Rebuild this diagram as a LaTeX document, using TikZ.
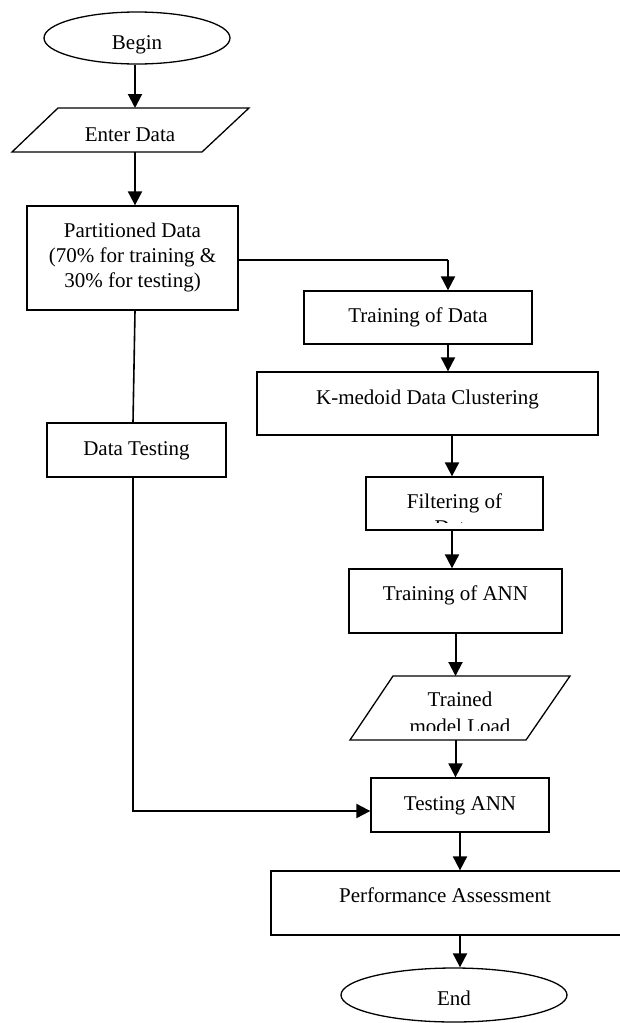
\documentclass[tikz,border=0pt]{standalone}
\usepackage{fontspec}
\setmainfont{Liberation Serif}
\usetikzlibrary{arrows.meta,shapes.geometric}
\begin{document}
\begin{tikzpicture}[x=1pt,y=-1pt,
  box/.style={draw,line width=1.3pt,rectangle,inner sep=0pt},
  oval/.style={draw,line width=1.3pt,ellipse,inner sep=0pt},
  para/.style={draw,line width=1.3pt},
  txt/.style={inner sep=0pt,anchor=base,font=\fontsize{21}{25}\selectfont},
  arr/.style={line width=2pt,-{Triangle[length=14pt,width=14pt]}},
  link/.style={line width=1.6pt}]
\useasboundingbox (0,0) rectangle (619,1023);

% terminals
\node[oval,minimum width=186pt,minimum height=52pt] (begin) at (137,38) {};
\node[txt] (tbegin) at (137,49) {Begin};
\node[oval,minimum width=226pt,minimum height=54pt] (end) at (454,995) {};
\node[txt] (tend) at (454,1005) {End};

% Enter Data parallelogram
\draw[para] (58,108) -- (249,108) -- (202,152) -- (12,152) -- cycle;
\coordinate (enterN) at (135,108);
\coordinate (enterS) at (135,152);
\node[txt] (tenter) at (130,141) {Enter Data};

% Partitioned Data
\node[box,minimum width=211pt,minimum height=104pt] (part) at (132.5,258) {};
\node[txt] (tpart1) at (132.5,237) {Partitioned Data};
\node[txt] (tpart2) at (132.5,262) {(70\% for training \&};
\node[txt] (tpart3) at (132.5,287) {30\% for testing)};

% right column
\node[box,minimum width=228pt,minimum height=53pt] (train) at (418,317.5) {};
\node[txt] (ttrain) at (418,322) {Training of Data};

\node[box,minimum width=341pt,minimum height=63pt] (kmed) at (427.5,403.5) {};
\node[txt] (tkmed) at (427.5,404) {K-medoid Data Clustering};

\node[box,minimum width=177pt,minimum height=53pt] (filt) at (454.5,503.5) {};
\node[txt] (tfilt1) at (454.5,508) {Filtering of};
\begin{scope}
  \clip (366,477) rectangle (543,522);
  \node[txt] (tfilt2) at (454.5,534) {Data};
\end{scope}

\node[box,minimum width=213pt,minimum height=64pt] (tann) at (455.5,601) {};
\node[txt] (ttann) at (455.5,600) {Training of ANN};

% Trained model Load parallelogram
\draw[para] (393,676) -- (570,676) -- (526,740) -- (350,740) -- cycle;
\coordinate (trN) at (455.5,676);
\coordinate (trS) at (455.5,740);
\node[txt] (ttr1) at (460,706) {Trained};
\begin{scope}
  \clip (340,676) rectangle (580,730);
  \node[txt] (ttr2) at (460,733) {model Load};
\end{scope}

\node[box,minimum width=178pt,minimum height=54pt] (test) at (460,805) {};
\node[txt] (ttest) at (460,810) {Testing ANN};

\node[box,minimum width=359pt,minimum height=64pt] (perf) at (450.5,903) {};
\node[txt] (tperf) at (445,902) {Performance Assessment};

% left column
\node[box,minimum width=179pt,minimum height=54pt] (dtest) at (136.5,450) {};
\node[txt] (tdtest) at (136.5,455) {Data Testing};

% connectors
\coordinate (split) at ([xshift=30pt]train.north |- part.east);
\draw[arr] ([xshift=-2pt]begin.south) -- (enterN);
\draw[arr] (enterS) -- (enterS |- part.north);
\draw[link] ([yshift=-2pt]part.east) -- ([yshift=-2pt]split);
\draw[arr] ([yshift=-2pt]split) -- ([xshift=30pt]train.north);
\draw[arr] ([xshift=30pt]train.south) -- ([xshift=30pt]train.south |- kmed.north);
\draw[arr] ([xshift=-2.5pt]filt.north |- kmed.south) -- ([xshift=-2.5pt]filt.north);
\draw[arr] ([xshift=-2.5pt]filt.south) -- ([xshift=-2.5pt]filt.south |- tann.north);
\draw[arr] (tann.south) -- (trN);
\draw[arr] (trS) -- (trS |- test.north);
\draw[arr] (test.south) -- (test.south |- perf.north);
\draw[arr] (test.south |- perf.south) -- (test.south |- end.north);
\draw[link] ([xshift=2.5pt]part.south) -- ([xshift=-3.5pt]dtest.north);
\draw[arr] ([xshift=-3.5pt]dtest.south) |- ([yshift=-6pt]test.west);
\end{tikzpicture}
\end{document}
